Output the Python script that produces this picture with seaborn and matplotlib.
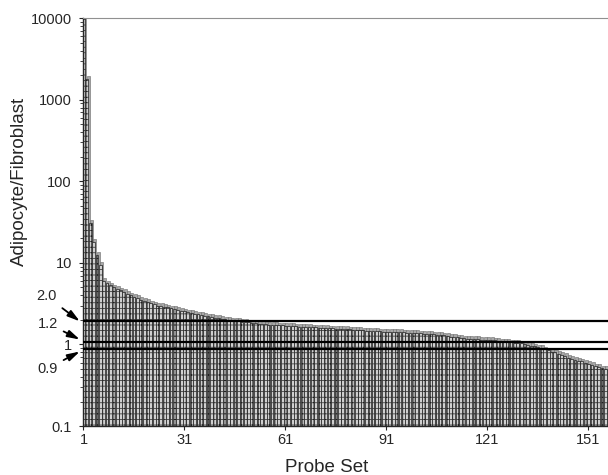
import matplotlib
matplotlib.use("Agg")
import matplotlib.pyplot as plt
from matplotlib.ticker import NullFormatter
import pandas as pd
import seaborn as sns

# fold change per probe set, sorted high -> low
ratios = [
    10000, 1800, 31, 18, 12.5, 9.5, 6.0, 5.6, 5.3, 5.0,
    4.8, 4.6, 4.4, 4.2, 4.0, 3.85, 3.7, 3.55, 3.4, 3.3,
    3.2, 3.1, 3.0, 2.95, 2.9, 2.85, 2.78, 2.72, 2.66, 2.6,
    2.54, 2.48, 2.43, 2.38, 2.33, 2.29, 2.25, 2.21, 2.17, 2.14,
    2.1, 2.06, 2.03, 2.0, 1.97, 1.95, 1.93, 1.9, 1.88, 1.86,
    1.84, 1.82, 1.8, 1.78, 1.76, 1.75, 1.74, 1.73, 1.72, 1.71,
    1.7, 1.69, 1.68, 1.67, 1.66, 1.65, 1.64, 1.63, 1.62, 1.62,
    1.61, 1.6, 1.59, 1.58, 1.57, 1.56, 1.56, 1.55, 1.54, 1.53,
    1.52, 1.51, 1.5, 1.49, 1.48, 1.48, 1.47, 1.46, 1.45, 1.44,
    1.44, 1.43, 1.43, 1.42, 1.42, 1.41, 1.40, 1.39, 1.39, 1.38,
    1.37, 1.36, 1.35, 1.34, 1.33, 1.32, 1.30, 1.29, 1.27, 1.25,
    1.24, 1.22, 1.21, 1.19, 1.18, 1.17, 1.17, 1.16, 1.15, 1.15,
    1.14, 1.13, 1.12, 1.10, 1.09, 1.08, 1.07, 1.06, 1.05, 1.04,
    1.03, 1.01, 0.99, 0.97, 0.95, 0.92, 0.9, 0.87, 0.85, 0.82,
    0.8, 0.77, 0.75, 0.72, 0.69, 0.67, 0.65, 0.63, 0.62, 0.6,
    0.58, 0.56, 0.54, 0.53, 0.51, 0.5, 0.48, 0.46,
]
probe_set = list(range(1, len(ratios) + 1))

cutoff_levels = [1.92, 1.07, 0.89]
cutoff_labels = ["2.0", "1.2", "0.9"]
arrow_tips = [1.92, 1.15, 0.82]   # where each arrow head lands on the axis
x_ticks = [1, 31, 61, 91, 121, 151]
y_ticks = [0.1, 1, 10, 100, 1000, 10000]
y_tick_labels = ["0.1", "1", "10", "100", "1000", "10000"]

df = pd.DataFrame({"probe": probe_set, "ratio": ratios})
# fake 3d side of each bar: shifted a bit right and up
shadow = df.assign(probe=df["probe"] + 0.35, ratio=df["ratio"] * 1.08)

sns.set_style("ticks")
plt.rcParams["font.family"] = ["Liberation Sans", "DejaVu Sans"]
plt.rcParams["hatch.linewidth"] = 0.5

fig = plt.figure(figsize=(6.08, 4.75), dpi=100)
ax = fig.add_axes([0.1365, 0.103, 0.8635, 0.859])
ax.set_yscale("log")

sns.barplot(data=shadow, x="probe", y="ratio", native_scale=True, width=0.9,
            color="#a8a8a8", edgecolor="#6a6a6a", linewidth=0.4,
            saturation=1, errorbar=None, ax=ax)
sns.barplot(data=df, x="probe", y="ratio", native_scale=True, width=0.85,
            color="#d0d0d0", edgecolor="#202020", linewidth=0.5, hatch="+++",
            saturation=1, errorbar=None, ax=ax)

for lvl in cutoff_levels:
    ax.axhline(lvl, color="black", lw=1.6, zorder=5)

offsets = [(-23, 25), (-22, 16), (-22, -17)]
for tip, lab, off in zip(arrow_tips, cutoff_labels, offsets):
    ax.annotate(lab, xy=(-0.006, tip), xycoords=("axes fraction", "data"),
                xytext=off, textcoords="offset pixels", ha="right", va="center",
                fontsize=10.5, annotation_clip=False,
                arrowprops=dict(arrowstyle="-|>,head_length=0.7,head_width=0.2",
                                color="black", lw=1.3, shrinkA=2, shrinkB=0))

ax.set_ylim(0.1, 10000)
ax.set_xlim(0.85, 156.8)
ax.set_yticks(y_ticks, labels=y_tick_labels)
ax.yaxis.set_minor_formatter(NullFormatter())
ax.set_xticks(x_ticks, labels=[str(t) for t in x_ticks])
ax.tick_params(axis="both", which="major", labelsize=10.5, length=3, width=0.8, pad=2)
ax.tick_params(axis="y", which="major", pad=5)
ax.tick_params(axis="y", which="minor", length=2, width=0.6)

ax.spines["right"].set_visible(False)
ax.spines["top"].set_color("#909090")
ax.spines["left"].set_linewidth(1)
ax.spines["bottom"].set_linewidth(1)

ax.set_xlabel("Probe Set", fontsize=13.5)
ax.set_ylabel("Adipocyte/Fibroblast", fontsize=13.5)
ax.xaxis.set_label_coords(0.465, -0.08)
ax.yaxis.set_label_coords(-0.105, 0.6)

fig.savefig("out.png", dpi=100)
